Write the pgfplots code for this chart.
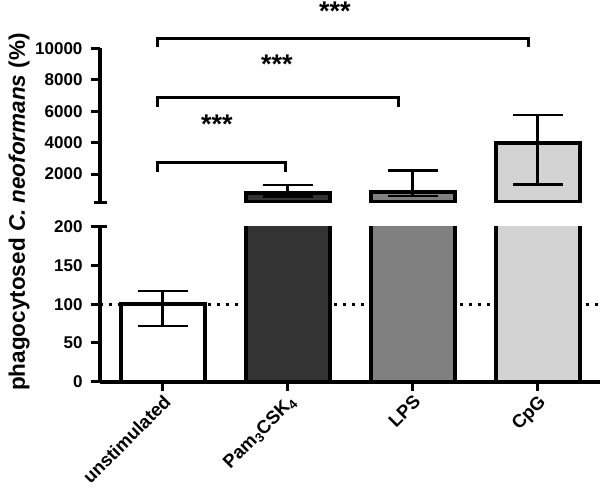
\documentclass[border=0pt]{standalone}
\usepackage{pgfplots}
\pgfplotsset{compat=1.18}
\usepackage{fontspec}
\setmainfont{Liberation Sans}

\definecolor{barDark}{HTML}{333333}
\definecolor{barMid}{HTML}{808080}
\definecolor{barLight}{HTML}{D3D3D3}

\pgfplotsset{
  brokenbase/.style={
    scale only axis, width=500pt,
    xmin=-0.5, xmax=3.5,
    axis line style={line width=4pt},
    tick style={line width=3pt, black},
    major tick length=9pt,
    tick align=outside,
    /pgf/number format/assume math mode=true,
    /pgf/number format/set thousands separator={},
    scaled y ticks=false,
    yticklabel style={font=\bfseries\fontsize{17}{19}\selectfont, xshift=-5pt},
  },
  barstyle/.style={ybar, bar width=84pt, bar shift=0pt, draw=black, line width=4pt,
    error bars/y dir=both, error bars/y explicit,
    error bars/error bar style={line width=2.5pt, black},
    error bars/error mark options={rotate=90, mark size=25pt, line width=2.5pt, black}},
}
\tikzset{stars/.style={font=\bfseries\fontsize{27}{27}\selectfont, inner sep=0pt, yshift=-2.5pt}}

\begin{document}
\begin{tikzpicture}
\useasboundingbox (0pt,0pt) rectangle (600pt,495pt);

% lower part: 0 - 200
\begin{axis}[brokenbase,
    at={(100pt,113.3pt)}, anchor=south west, height=155pt,
    ymin=0, ymax=200, ytick={0,50,...,200},
    axis x line*=bottom, axis y line*=left,
    xtick={0,1,2,3},
    xticklabels={unstimulated, Pam\textsubscript{3}CSK\textsubscript{4}, LPS, CpG},
    xticklabel style={rotate=45, anchor=north east, inner sep=2pt,
                      font=\bfseries\fontsize{18.5}{20}\selectfont},
]
\addplot[black, line width=3pt, dash pattern=on 3pt off 6pt] coordinates {(-0.5,100) (3.5,100)};
\addplot[fill=white, barstyle] coordinates {(0,100) += (0,17) -= (0,28)};
\addplot[fill=barDark, barstyle] coordinates {(1,780) += (0,527) -= (0,218)};
\addplot[fill=barMid, barstyle] coordinates {(2,880) += (0,1336) -= (0,273)};
\addplot[fill=barLight, barstyle] coordinates {(3,4000) += (0,1760) -= (0,2650)};
\coordinate (lowtop) at (axis cs:-0.5,200);
\end{axis}

% upper part: 200 - 10000
\begin{axis}[brokenbase,
    at={(100pt,292.6pt)}, anchor=south west, height=154.1pt,
    ymin=200, ymax=10000, ytick={2000,4000,...,10000},
    axis y line*=left, axis x line=none,
]
\addplot[fill=barDark, barstyle] coordinates {(1,780) += (0,527) -= (0,218)};
\addplot[fill=barMid, barstyle] coordinates {(2,880) += (0,1336) -= (0,273)};
\addplot[fill=barLight, barstyle] coordinates {(3,4000) += (0,1760) -= (0,2650)};
\coordinate (upbot) at (axis cs:-0.5,200);
% significance brackets
\coordinate (a1) at (axis cs:-0.044,2133); \coordinate (b1) at (axis cs:0.98,2725);
\coordinate (c1) at (axis cs:0.98,2133);
\coordinate (a2) at (axis cs:-0.044,6267); \coordinate (b2) at (axis cs:1.89,6858);
\coordinate (c2) at (axis cs:1.89,6267);
\coordinate (a3) at (axis cs:-0.044,10083); \coordinate (b3) at (axis cs:2.93,10636);
\coordinate (c3) at (axis cs:2.93,10083);
\coordinate (s1) at (axis cs:0.436,5313);
\coordinate (s2) at (axis cs:0.916,9129);
\coordinate (s3) at (axis cs:1.38,12499);
\end{axis}

\draw[line width=3pt] (lowtop) -- ++(7pt,0);
\draw[line width=3pt] (upbot) ++(-6pt,0) -- ++(13pt,0);
\draw[line width=3pt] (a1) |- (b1) -- (c1);
\draw[line width=3pt] (a2) |- (b2) -- (c2);
\draw[line width=3pt] (a3) |- (b3) -- (c3);
\node[stars] at (s1) {***};
\node[stars] at (s2) {***};
\node[stars] at (s3) {***};

\node[rotate=90, font=\bfseries\fontsize{22.5}{24}\selectfont] at (19pt,283pt)
  {phagocytosed \textit{C. neoformans} (\%)};
\end{tikzpicture}
\end{document}
